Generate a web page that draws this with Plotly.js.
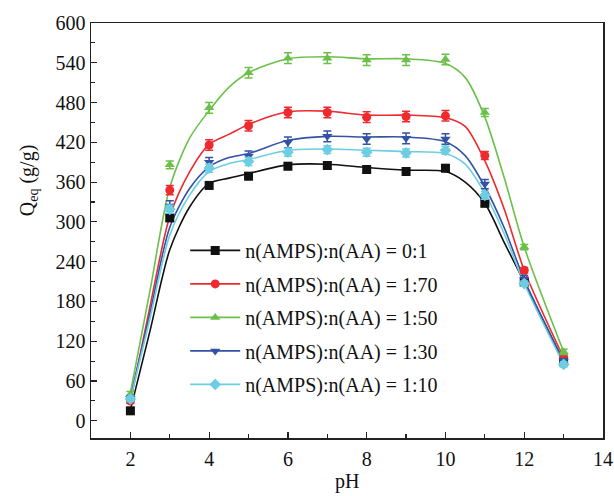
<!DOCTYPE html>
<html><head><meta charset="utf-8">
<script src="https://cdn.plot.ly/plotly-3.0.1.min.js"></script>
<style>html,body{margin:0;padding:0;background:#fff}</style>
</head><body><div id="chart" style="width:614px;height:496px"></div>
<script>
// measured data
const pH = [2,3,4,5,6,7,8,9,10,11,12,13];
const names = ['n(AMPS):n(AA) = 0:1','n(AMPS):n(AA) = 1:70','n(AMPS):n(AA) = 1:50','n(AMPS):n(AA) = 1:30','n(AMPS):n(AA) = 1:10'];
const q01  = [15,306,355,369,384,385,379,376,381,328,209,89];
const q170 = [30,348,416,445,465,465,458,459,460,400,227,96];
const q150 = [40,386,472,525,547,547,544,544,545,465,262,104];
const q130 = [34,324,390,399,420,429,425,426,425,357,214,90];
const q110 = [33,319,381,391,405,409,405,404,408,340,207,85];
const e01  = [3,5,5,5,5,5,5,5,5,4,4,3];
const e170 = [4,7,8,8,8,8,8,8,8,6,4,4];
const e150 = [4,6,8,8,8,8,8,8,8,6,4,4];
const e130 = [4,8,7,8,8,8,8,8,8,7,5,4];
const e110 = [4,6,6,6,6,6,6,6,6,6,4,4];
// fitted curves
const fitPH  = [2,2.5,3,3.5,4,4.5,5,6,7,8,9,10,10.5,11,11.5,12,13];
const fit01  = [16,136,258,322,358,366,373,386,387,382,378,376,360,328,268,209,89];
const fit170 = [29,173,308,375,417,432,447,466,467,461,461,457,444,392,318,227,95];
const fit150 = [42,197,352,426,468,503,525,546,549,546,546,539,518,458,365,262,104];
const fit130 = [34,163,292,350,383,397,403,423,429,428,428,421,400,353,290,213,90];
const fit110 = [32,155,280,340,376,388,394,408,410,408,406,403,387,343,281,207,85];

const colors = ['#111111','#ee2a2e','#6cc04a','#3352a3','#6dcde2'];
const symbols = ['square','circle','triangle-up','triangle-down','diamond'];
const qs = [q01,q170,q150,q130,q110];
const es = [e01,e170,e150,e130,e110];
const fits = [fit01,fit170,fit150,fit130,fit110];

const traces = [];
for (let i=0;i<5;i++){
  traces.push({x:fitPH, y:fits[i], mode:'lines', line:{color:colors[i], width:1.6, shape:'spline', smoothing:0.8}, showlegend:false, hoverinfo:'skip'});
}
for (let i=0;i<5;i++){
  traces.push({x:pH, y:qs[i], mode:'markers', marker:{color:colors[i], symbol:symbols[i], size:9},
    error_y:{type:'data', array:es[i], visible:true, color:colors[i], thickness:1.5, width:4}, showlegend:false});
}
for (let i=0;i<5;i++){
  traces.push({x:[null], y:[null], mode:'lines+markers', name:names[i], legendgroup:'g'+i,
    line:{color:colors[i], width:1.6}, marker:{color:colors[i], symbol:symbols[i], size:9}, showlegend:true});
}

const FAM = 'Liberation Serif, Times New Roman, serif';
const layout = {
  width:614, height:496,
  margin:{l:91, r:11, t:23, b:58},
  paper_bgcolor:'#fff', plot_bgcolor:'#fff',
  font:{family:FAM, color:'#111', size:20},
  showlegend:true,
  legend:{x:0.184, y:0.499, xanchor:'left', yanchor:'top', bgcolor:'rgba(0,0,0,0)', font:{family:FAM,size:20,color:'#111'}, tracegroupgap:4.5, itemwidth:50},
  xaxis:{range:[1,14], tick0:0, dtick:2, ticks:'inside', ticklen:6, tickwidth:1.2, tickcolor:'#222',
    minor:{ticks:'inside', ticklen:4, dtick:1, tick0:0, tickcolor:'#222', tickwidth:1.2},
    showline:true, linecolor:'#222', linewidth:1.5, mirror:true, showgrid:false, zeroline:false,
    ticklabelstandoff:2,
    tickfont:{family:FAM, size:20, color:'#111'}},
  yaxis:{range:[-26,600], tick0:0, dtick:60, ticks:'inside', ticklen:6, tickwidth:1.2, tickcolor:'#222',
    minor:{ticks:'inside', ticklen:4, dtick:30, tick0:0, tickcolor:'#222', tickwidth:1.2},
    showline:true, linecolor:'#222', linewidth:1.5, mirror:true, showgrid:false, zeroline:false,
    tickfont:{family:FAM, size:20, color:'#111'}},
  annotations:[
    {text:'pH', xref:'paper', yref:'paper', x:0.5, y:-0.106, xanchor:'center', yanchor:'middle', showarrow:false, font:{family:FAM,size:20,color:'#111'}},
    {text:'Q<sub>eq</sub> (g/g)', xref:'paper', yref:'paper', x:-0.122, y:0.62, xanchor:'center', yanchor:'middle', textangle:-90, showarrow:false, font:{family:FAM,size:20,color:'#111'}}
  ]
};
Plotly.newPlot('chart', traces, layout, {displayModeBar:false, staticPlot:true});
</script></body></html>
